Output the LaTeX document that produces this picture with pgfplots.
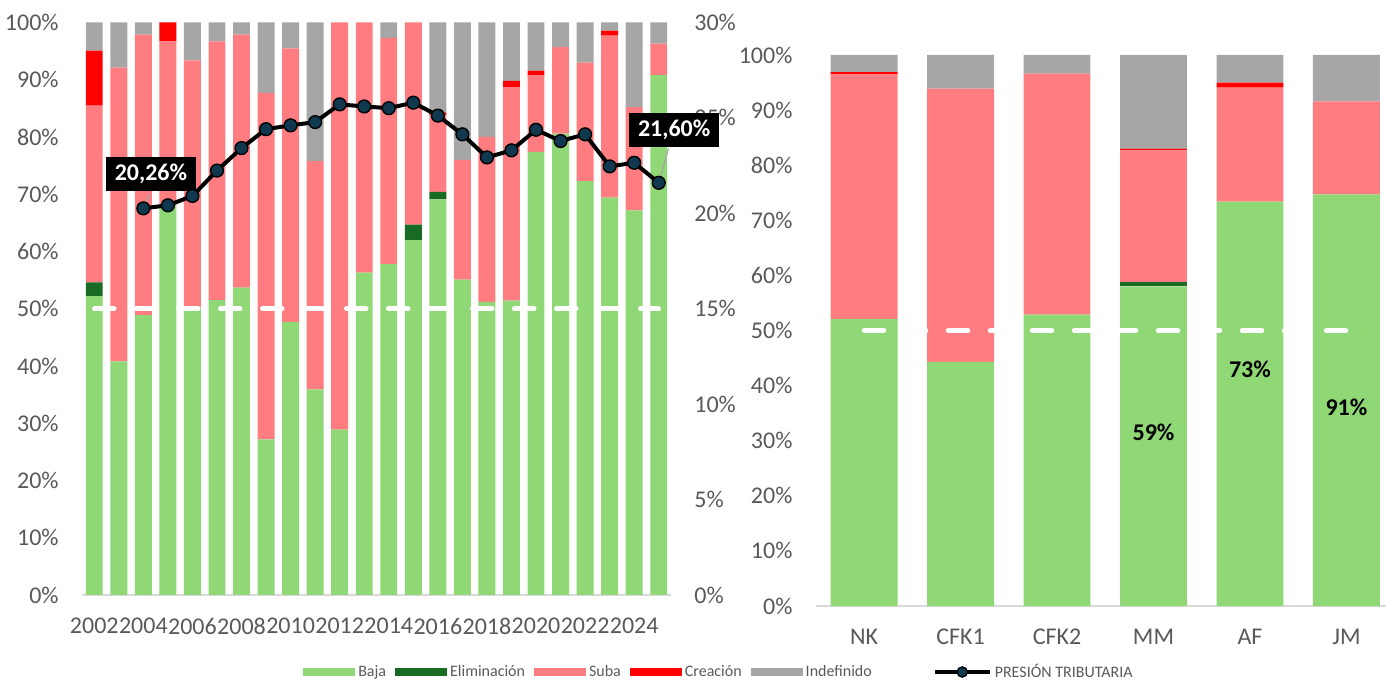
\documentclass[border=0pt]{standalone}
\usepackage{pgfplots}
\pgfplotsset{compat=1.18}
\usepackage{fontspec}
\setmainfont{Carlito}

\definecolor{baja}{HTML}{8FD875}
\definecolor{elim}{HTML}{196B24}
\definecolor{suba}{HTML}{FF7C80}
\definecolor{crea}{HTML}{FF0000}
\definecolor{indef}{HTML}{A6A6A6}
\definecolor{tickgray}{HTML}{595959}
\definecolor{basegray}{HTML}{D9D9D9}
\definecolor{markfill}{HTML}{10394F}

\newcommand\tickfont{\fontsize{12}{14}\selectfont}
\newcommand\legfont{\fontsize{8}{9.5}\selectfont}

\pgfplotsset{
  common/.style={
    scale only axis,
    ybar stacked,
    ymin=0, ymax=100,
    axis x line*=bottom, axis y line*=left,
    y axis line style={draw=none},
    x axis line style={draw=basegray, line width=1pt},
    major tick length=0pt,
    tick label style={font=\tickfont, text=tickgray, inner sep=0pt},
    yticklabel style={anchor=east, xshift=-11.5pt},
    xticklabel style={anchor=north, yshift=-11.5pt},
    ytick={0,10,...,100},
    yticklabels={0\%,10\%,20\%,30\%,40\%,50\%,60\%,70\%,80\%,90\%,100\%},
    clip=false,
  },
  swatch/.style={legend image code/.code={\fill[##1] (0pt,-2pt) rectangle (26pt,2pt);}},
}

\begin{document}
\begin{tikzpicture}
\useasboundingbox (0pt,0pt) rectangle (693pt,340pt);

% ---------- left chart: years ----------
\begin{axis}[common,
  at={(41pt,42.5pt)}, anchor=south west,
  width=294.5pt, height=286.25pt,
  bar width=0.69,
  xmin=0.5, xmax=24.5,
  xtick={1,3,...,23},
  xticklabels={2002,2004,2006,2008,2010,2012,2014,2016,2018,2020,2022,2024},
  legend columns=-1,
  legend cell align=left,
  legend style={at={(0.375,-0.1345)}, anchor=west, draw=none, fill=none,
    font=\legfont, text=tickgray, inner sep=0pt,
    nodes={inner sep=1.5pt},
    /tikz/every even column/.append style={column sep=3pt}},
]
\addplot[fill=baja, draw=none, swatch] coordinates {
 (1,52.2) (2,40.8) (3,48.9) (4,68.1) (5,50.3) (6,51.5) (7,53.7) (8,27.2)
 (9,47.7) (10,35.9) (11,28.9) (12,56.3) (13,57.8) (14,62.0) (15,69.1) (16,55.1)
 (17,51.2) (18,51.4) (19,77.4) (20,80.6) (21,72.3) (22,69.4) (23,67.2) (24,90.8)};
\addlegendentry{Baja}
\addplot[fill=elim, draw=none, swatch] coordinates {
 (1,2.4) (2,0) (3,0) (4,0) (5,0) (6,0) (7,0) (8,0)
 (9,0) (10,0) (11,0) (12,0) (13,0) (14,2.7) (15,1.3) (16,0)
 (17,0) (18,0) (19,0) (20,0) (21,0) (22,0) (23,0) (24,0)};
\addlegendentry{Eliminación}
\addplot[fill=suba, draw=none, swatch] coordinates {
 (1,30.9) (2,51.3) (3,49.0) (4,28.6) (5,43.1) (6,45.2) (7,44.2) (8,60.5)
 (9,47.8) (10,39.9) (11,71.1) (12,43.7) (13,39.5) (14,35.3) (15,13.4) (16,20.9)
 (17,28.8) (18,37.3) (19,13.4) (20,15.1) (21,20.7) (22,28.3) (23,18.0) (24,5.5)};
\addlegendentry{Suba}
\addplot[fill=crea, draw=none, swatch] coordinates {
 (1,9.6) (2,0) (3,0) (4,3.3) (5,0) (6,0) (7,0) (8,0)
 (9,0) (10,0) (11,0) (12,0) (13,0) (14,0) (15,0.5) (16,0)
 (17,0) (18,1.1) (19,0.8) (20,0) (21,0) (22,0.9) (23,0) (24,0)};
\addlegendentry{Creación}
\addplot[fill=indef, draw=none, swatch] coordinates {
 (1,4.9) (2,7.9) (3,2.1) (4,0) (5,6.6) (6,3.3) (7,2.1) (8,12.3)
 (9,4.5) (10,24.2) (11,0) (12,0) (13,2.7) (14,0) (15,15.7) (16,24.0)
 (17,20.0) (18,10.2) (19,8.4) (20,4.3) (21,7.0) (22,1.4) (23,14.8) (24,3.7)};
\addlegendentry{Indefinido\hspace*{26pt}}
\addlegendimage{legend image code/.code={
  \draw[black, line width=2pt] (0pt,0pt) -- (27.5pt,0pt);
  \filldraw[fill=markfill, draw=black, line width=0.6pt] (13.75pt,0pt) circle (2.6pt);}}
\addlegendentry{PRESIÓN TRIBUTARIA}
\end{axis}

% secondary axis: tax pressure
\begin{axis}[
  scale only axis,
  at={(41pt,42.5pt)}, anchor=south west,
  width=294.5pt, height=286.25pt,
  xmin=0.5, xmax=24.5, ymin=0, ymax=30,
  axis x line=none, axis y line*=right,
  y axis line style={draw=none},
  major tick length=0pt,
  tick label style={font=\tickfont, text=tickgray, inner sep=0pt},
  yticklabel style={anchor=west, xshift=11.5pt},
  ytick={0,5,...,30},
  yticklabels={0\%,5\%,10\%,15\%,20\%,25\%,30\%},
  clip=false,
]
\addplot[white, line width=2.25pt, line cap=round, dash pattern=on 10pt off 11pt]
  coordinates {(1,15) (24,15)};
\addplot[black, line width=2pt, mark=*,
  mark options={fill=markfill, draw=black, line width=0.7pt}, mark size=3.2pt]
  coordinates {
 (3,20.26) (4,20.42) (5,20.91) (6,22.24) (7,23.42) (8,24.41) (9,24.61) (10,24.78)
 (11,25.71) (12,25.60) (13,25.51) (14,25.80) (15,25.12) (16,24.14) (17,22.93)
 (18,23.30) (19,24.38) (20,23.79) (21,24.14) (22,22.46) (23,22.65) (24,21.60)};
\draw[gray!70, line width=0.6pt] (axis cs:3.25,21.0) -- (axis cs:3,20.26);
\draw[gray!70, line width=0.6pt] (axis cs:24.4,23.4) -- (axis cs:24,21.6);
\node[fill=black, text=white, font=\tickfont\bfseries, inner xsep=4.5pt, inner ysep=3.5pt]
  at (axis cs:3.31,22.07) {20,26\%};
\node[fill=black, text=white, font=\tickfont\bfseries, inner xsep=4.5pt, inner ysep=3.5pt]
  at (axis cs:24.63,24.35) {21,60\%};
\end{axis}

% ---------- right chart: presidencies ----------
\begin{axis}[common,
  at={(407.9pt,37pt)}, anchor=south west,
  width=285.1pt, height=275.5pt,
  bar width=0.694,
  xmin=-0.5, xmax=5.41,
  xtick={0,...,5},
  xticklabels={NK,CFK1,CFK2,MM,AF,JM},
]
\addplot[fill=baja, draw=none] coordinates {(0,52.1) (1,44.3) (2,52.9) (3,58.0) (4,73.4) (5,74.7)};
\addplot[fill=elim, draw=none] coordinates {(0,0) (1,0) (2,0) (3,0.8) (4,0) (5,0)};
\addplot[fill=suba, draw=none] coordinates {(0,44.4) (1,49.6) (2,43.7) (3,23.9) (4,20.7) (5,16.9)};
\addplot[fill=crea, draw=none] coordinates {(0,0.4) (1,0) (2,0) (3,0.3) (4,0.9) (5,0)};
\addplot[fill=indef, draw=none] coordinates {(0,3.1) (1,6.1) (2,3.4) (3,17.0) (4,5.0) (5,8.4)};
\end{axis}

% overlay: 50% reference line and labels
\begin{axis}[
  scale only axis,
  at={(407.9pt,37pt)}, anchor=south west,
  width=285.1pt, height=275.5pt,
  xmin=-0.5, xmax=5.41, ymin=0, ymax=100,
  hide axis, clip=false,
]
\addplot[white, line width=2.25pt, line cap=round, dash pattern=on 10pt off 11pt]
  coordinates {(0,50) (5,50)};
\node[font=\tickfont\bfseries, text=black] at (axis cs:3,31.6) {59\%};
\node[font=\tickfont\bfseries, text=black] at (axis cs:4,42.9) {73\%};
\node[font=\tickfont\bfseries, text=black] at (axis cs:5,36.1) {91\%};
\end{axis}
\end{tikzpicture}
\end{document}
